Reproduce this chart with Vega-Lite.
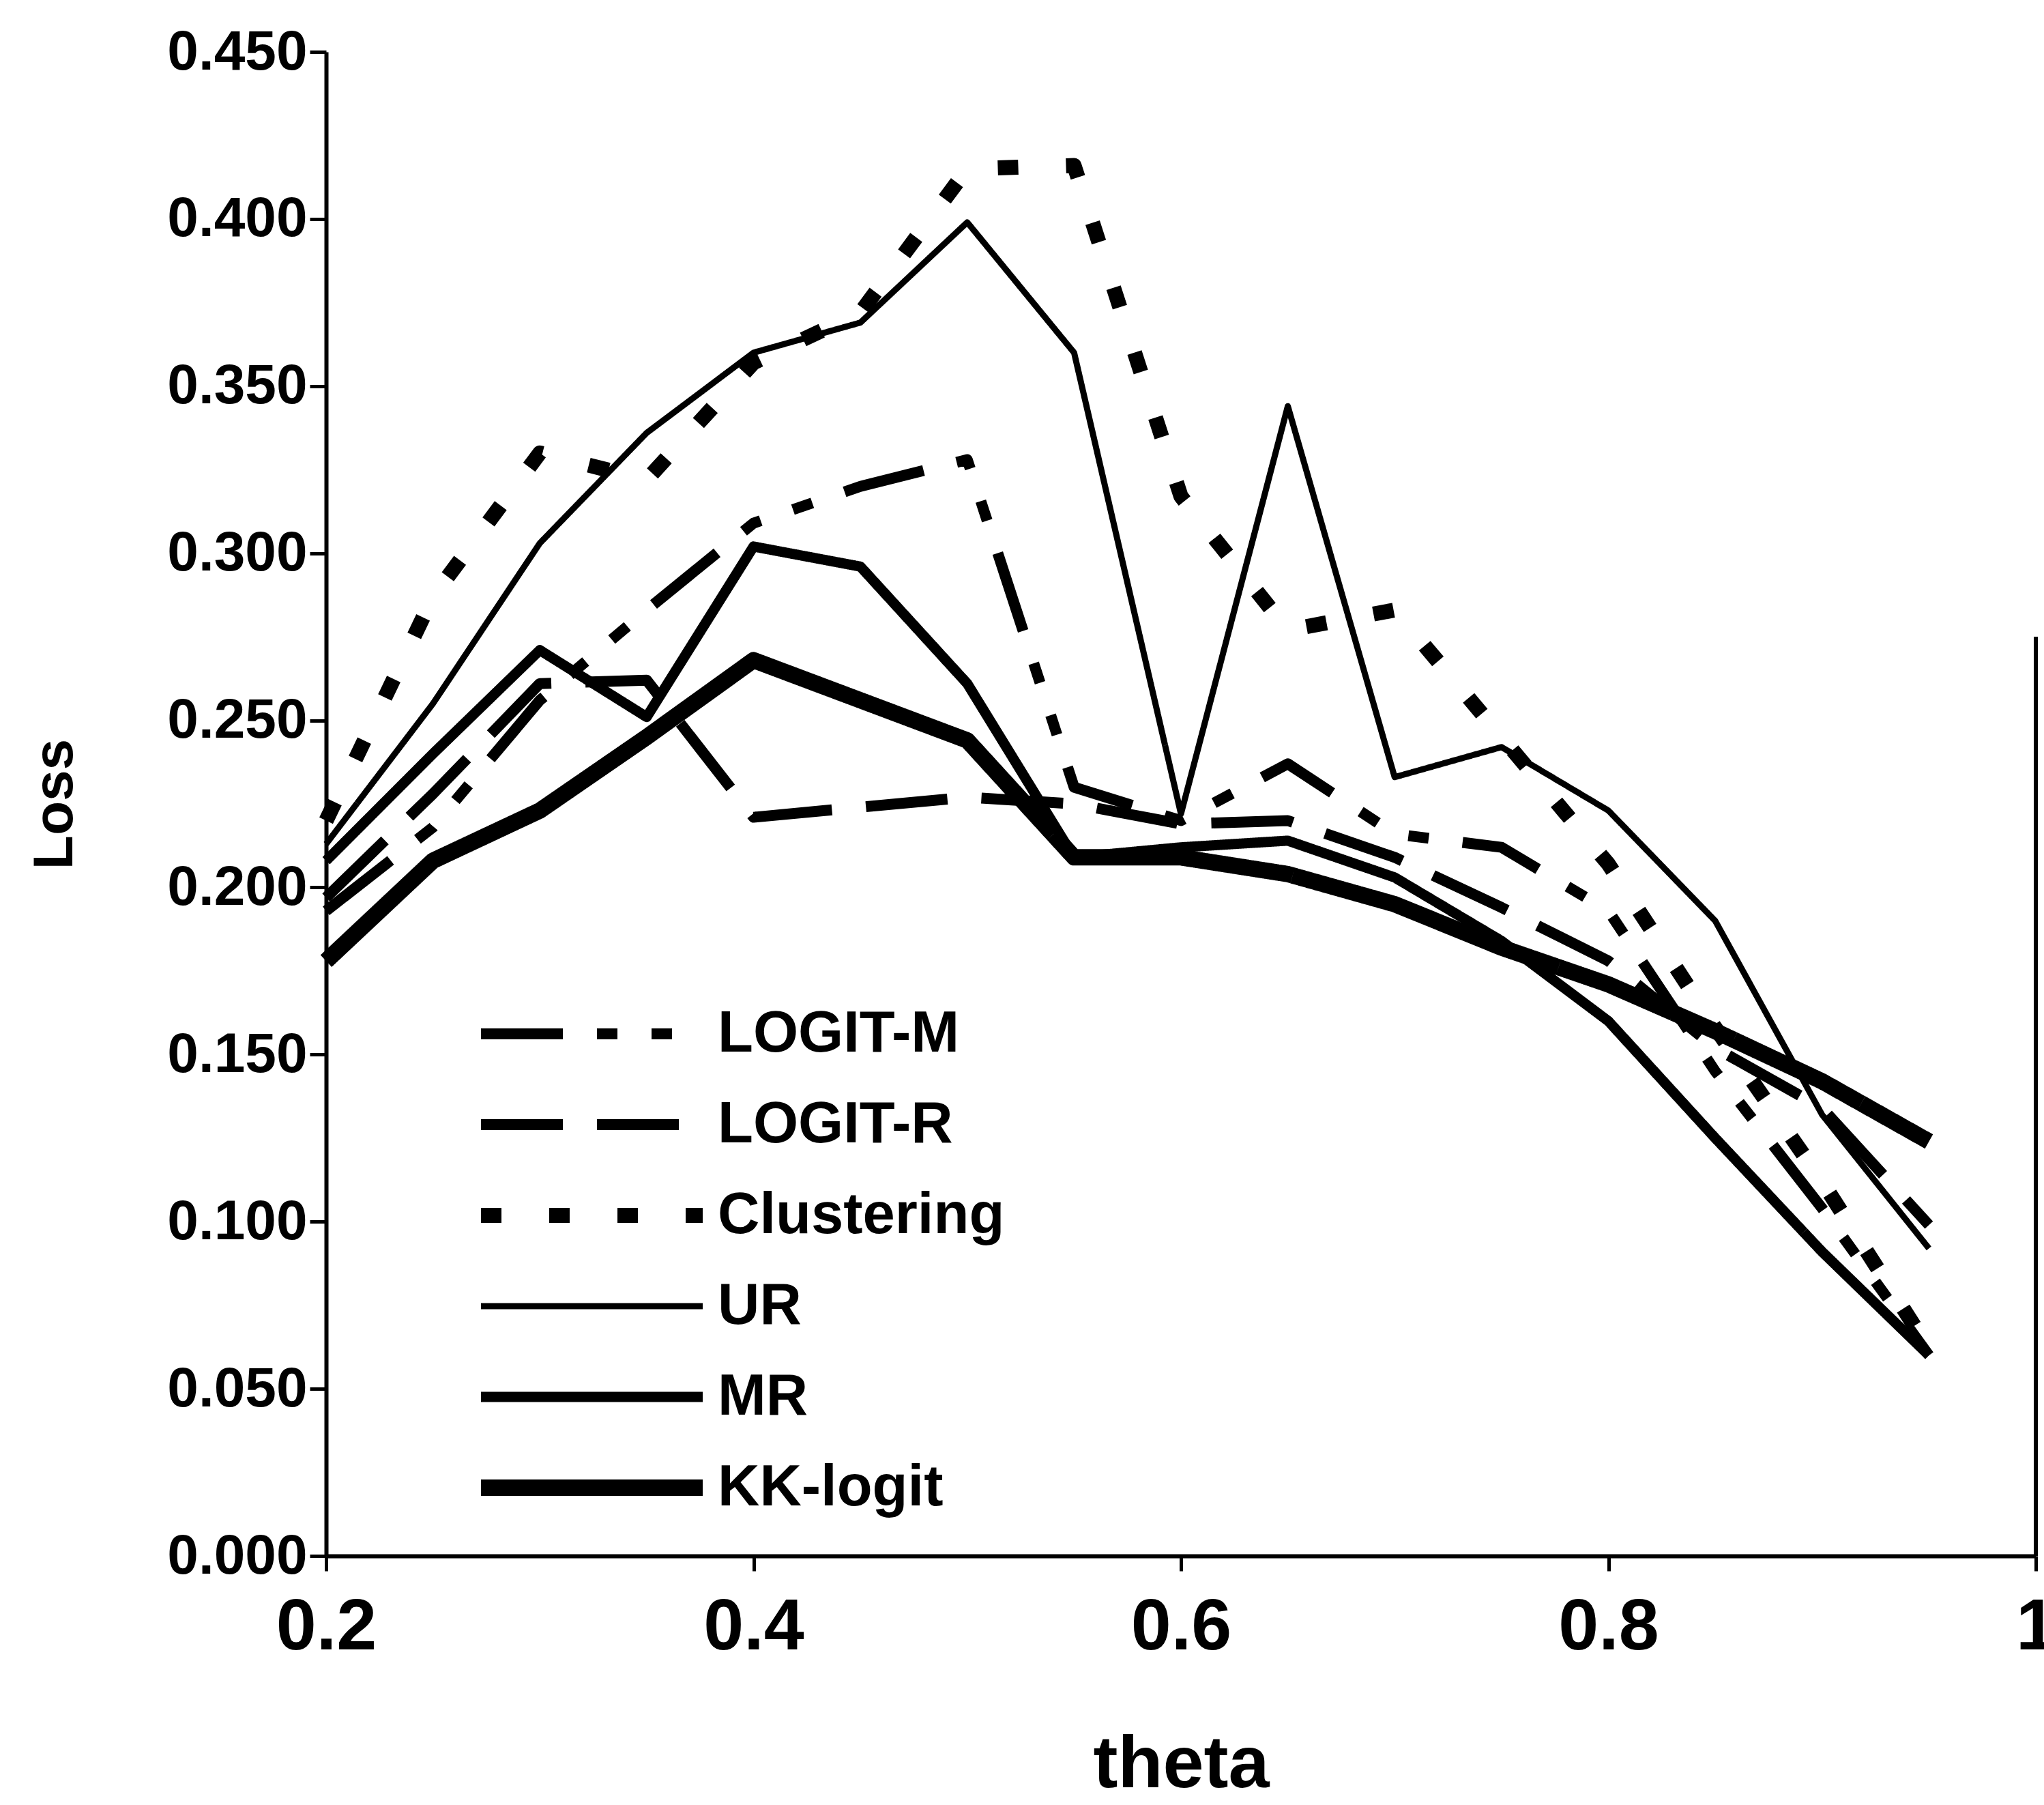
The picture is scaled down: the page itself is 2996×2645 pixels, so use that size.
{
  "$schema": "https://vega.github.io/schema/vega-lite/v6.json",
  "autosize": {"type": "none"},
  "padding": {"left": 478, "top": 76, "right": 12, "bottom": 365},
  "width": 2506,
  "height": 2204,
  "background": "white",
  "config": {"view": {"stroke": null}},
  "datasets": {
    "loss": [
      {"theta": 0.2, "loss": 0.193, "series": "LOGIT-M"},
      {"theta": 0.25, "loss": 0.218, "series": "LOGIT-M"},
      {"theta": 0.3, "loss": 0.256, "series": "LOGIT-M"},
      {"theta": 0.35, "loss": 0.283, "series": "LOGIT-M"},
      {"theta": 0.4, "loss": 0.309, "series": "LOGIT-M"},
      {"theta": 0.45, "loss": 0.32, "series": "LOGIT-M"},
      {"theta": 0.5, "loss": 0.328, "series": "LOGIT-M"},
      {"theta": 0.55, "loss": 0.23, "series": "LOGIT-M"},
      {"theta": 0.6, "loss": 0.22, "series": "LOGIT-M"},
      {"theta": 0.65, "loss": 0.237, "series": "LOGIT-M"},
      {"theta": 0.7, "loss": 0.216, "series": "LOGIT-M"},
      {"theta": 0.75, "loss": 0.212, "series": "LOGIT-M"},
      {"theta": 0.8, "loss": 0.193, "series": "LOGIT-M"},
      {"theta": 0.85, "loss": 0.145, "series": "LOGIT-M"},
      {"theta": 0.9, "loss": 0.104, "series": "LOGIT-M"},
      {"theta": 0.95, "loss": 0.06, "series": "LOGIT-M"},

      {"theta": 0.2, "loss": 0.197, "series": "LOGIT-R"},
      {"theta": 0.25, "loss": 0.228, "series": "LOGIT-R"},
      {"theta": 0.3, "loss": 0.261, "series": "LOGIT-R"},
      {"theta": 0.35, "loss": 0.262, "series": "LOGIT-R"},
      {"theta": 0.4, "loss": 0.221, "series": "LOGIT-R"},
      {"theta": 0.45, "loss": 0.224, "series": "LOGIT-R"},
      {"theta": 0.5, "loss": 0.227, "series": "LOGIT-R"},
      {"theta": 0.55, "loss": 0.225, "series": "LOGIT-R"},
      {"theta": 0.6, "loss": 0.219, "series": "LOGIT-R"},
      {"theta": 0.65, "loss": 0.22, "series": "LOGIT-R"},
      {"theta": 0.7, "loss": 0.209, "series": "LOGIT-R"},
      {"theta": 0.75, "loss": 0.194, "series": "LOGIT-R"},
      {"theta": 0.8, "loss": 0.178, "series": "LOGIT-R"},
      {"theta": 0.85, "loss": 0.152, "series": "LOGIT-R"},
      {"theta": 0.9, "loss": 0.134, "series": "LOGIT-R"},
      {"theta": 0.95, "loss": 0.099, "series": "LOGIT-R"},

      {"theta": 0.2, "loss": 0.22, "series": "Clustering"},
      {"theta": 0.25, "loss": 0.287, "series": "Clustering"},
      {"theta": 0.3, "loss": 0.33, "series": "Clustering"},
      {"theta": 0.35, "loss": 0.322, "series": "Clustering"},
      {"theta": 0.4, "loss": 0.357, "series": "Clustering"},
      {"theta": 0.45, "loss": 0.372, "series": "Clustering"},
      {"theta": 0.5, "loss": 0.415, "series": "Clustering"},
      {"theta": 0.55, "loss": 0.416, "series": "Clustering"},
      {"theta": 0.6, "loss": 0.317, "series": "Clustering"},
      {"theta": 0.65, "loss": 0.277, "series": "Clustering"},
      {"theta": 0.7, "loss": 0.283, "series": "Clustering"},
      {"theta": 0.75, "loss": 0.245, "series": "Clustering"},
      {"theta": 0.8, "loss": 0.207, "series": "Clustering"},
      {"theta": 0.85, "loss": 0.158, "series": "Clustering"},
      {"theta": 0.9, "loss": 0.112, "series": "Clustering"},
      {"theta": 0.95, "loss": 0.062, "series": "Clustering"},

      {"theta": 0.2, "loss": 0.213, "series": "UR"},
      {"theta": 0.25, "loss": 0.255, "series": "UR"},
      {"theta": 0.3, "loss": 0.303, "series": "UR"},
      {"theta": 0.35, "loss": 0.336, "series": "UR"},
      {"theta": 0.4, "loss": 0.36, "series": "UR"},
      {"theta": 0.45, "loss": 0.369, "series": "UR"},
      {"theta": 0.5, "loss": 0.399, "series": "UR"},
      {"theta": 0.55, "loss": 0.36, "series": "UR"},
      {"theta": 0.6, "loss": 0.222, "series": "UR"},
      {"theta": 0.65, "loss": 0.344, "series": "UR"},
      {"theta": 0.7, "loss": 0.233, "series": "UR"},
      {"theta": 0.75, "loss": 0.242, "series": "UR"},
      {"theta": 0.8, "loss": 0.223, "series": "UR"},
      {"theta": 0.85, "loss": 0.19, "series": "UR"},
      {"theta": 0.9, "loss": 0.132, "series": "UR"},
      {"theta": 0.95, "loss": 0.092, "series": "UR"},

      {"theta": 0.2, "loss": 0.208, "series": "MR"},
      {"theta": 0.25, "loss": 0.24, "series": "MR"},
      {"theta": 0.3, "loss": 0.271, "series": "MR"},
      {"theta": 0.35, "loss": 0.251, "series": "MR"},
      {"theta": 0.4, "loss": 0.302, "series": "MR"},
      {"theta": 0.45, "loss": 0.296, "series": "MR"},
      {"theta": 0.5, "loss": 0.261, "series": "MR"},
      {"theta": 0.55, "loss": 0.209, "series": "MR"},
      {"theta": 0.6, "loss": 0.212, "series": "MR"},
      {"theta": 0.65, "loss": 0.214, "series": "MR"},
      {"theta": 0.7, "loss": 0.203, "series": "MR"},
      {"theta": 0.75, "loss": 0.184, "series": "MR"},
      {"theta": 0.8, "loss": 0.16, "series": "MR"},
      {"theta": 0.85, "loss": 0.125, "series": "MR"},
      {"theta": 0.9, "loss": 0.091, "series": "MR"},
      {"theta": 0.95, "loss": 0.06, "series": "MR"},

      {"theta": 0.2, "loss": 0.178, "series": "KK-logit"},
      {"theta": 0.25, "loss": 0.208, "series": "KK-logit"},
      {"theta": 0.3, "loss": 0.223, "series": "KK-logit"},
      {"theta": 0.35, "loss": 0.245, "series": "KK-logit"},
      {"theta": 0.4, "loss": 0.268, "series": "KK-logit"},
      {"theta": 0.45, "loss": 0.256, "series": "KK-logit"},
      {"theta": 0.5, "loss": 0.244, "series": "KK-logit"},
      {"theta": 0.55, "loss": 0.209, "series": "KK-logit"},
      {"theta": 0.6, "loss": 0.209, "series": "KK-logit"},
      {"theta": 0.65, "loss": 0.204, "series": "KK-logit"},
      {"theta": 0.7, "loss": 0.195, "series": "KK-logit"},
      {"theta": 0.75, "loss": 0.182, "series": "KK-logit"},
      {"theta": 0.8, "loss": 0.171, "series": "KK-logit"},
      {"theta": 0.85, "loss": 0.157, "series": "KK-logit"},
      {"theta": 0.9, "loss": 0.142, "series": "KK-logit"},
      {"theta": 0.95, "loss": 0.124, "series": "KK-logit"}
    ],
    "frame": [
      {"x": 1, "y": 0, "y2": 0.275}
    ]
  },
  "layer": [
    {
      "data": {"name": "loss"},
      "mark": {"type": "line", "color": "black", "strokeCap": "butt", "strokeJoin": "round"},
      "encoding": {
        "x": {
          "field": "theta", "type": "quantitative",
          "scale": {"domain": [0.2, 1], "nice": false, "zero": false},
          "axis": {
            "title": "theta",
            "values": [0.2, 0.4, 0.6, 0.8, 1],
            "format": "~g",
            "grid": false,
            "domainColor": "black", "domainWidth": 6,
            "tickColor": "black", "tickWidth": 5, "tickSize": 22,
            "labelFont": "Liberation Sans Narrow, Noto Sans Condensed, Liberation Sans, sans-serif",
            "labelFontSize": 106, "labelFontWeight": "bold", "labelColor": "black",
            "labelPadding": 30, "labelFlush": false, "labelOverlap": false, "labelLimit": 1000,
            "titleFont": "Liberation Sans Narrow, Noto Sans Condensed, Liberation Sans, sans-serif",
            "titleFontSize": 108, "titleFontWeight": "bold", "titleColor": "black",
            "titlePadding": 96
          }
        },
        "y": {
          "field": "loss", "type": "quantitative",
          "scale": {"domain": [0, 0.45], "nice": false},
          "axis": {
            "title": "Loss",
            "values": [0, 0.05, 0.1, 0.15, 0.2, 0.25, 0.3, 0.35, 0.4, 0.45],
            "format": ".3f",
            "grid": false,
            "domainColor": "black", "domainWidth": 6,
            "tickColor": "black", "tickWidth": 5, "tickSize": 24,
            "labelFont": "Liberation Sans, sans-serif",
            "labelFontSize": 82, "labelFontWeight": "bold", "labelColor": "black",
            "labelPadding": 4, "labelFlush": false, "labelOverlap": false, "labelLimit": 1000,
            "titleFont": "Liberation Sans, sans-serif",
            "titleFontSize": 82, "titleFontWeight": "bold", "titleColor": "black",
            "titlePadding": 156
          }
        },
        "detail": {"field": "series"},
        "strokeDash": {
          "field": "series", "type": "nominal",
          "scale": {
            "domain": ["LOGIT-M", "LOGIT-R", "Clustering", "UR", "MR", "KK-logit"],
            "range": [[120, 50, 30, 50, 30, 50], [120, 50], [30, 70], [1, 0], [1, 0], [1, 0]]
          },
          "legend": {
            "title": null,
            "orient": "none",
            "legendX": 215,
            "legendY": 1389,
            "direction": "vertical",
            "padding": 0,
            "symbolType": "stroke",
            "symbolSize": 105625,
            "symbolStrokeColor": "black",
            "symbolOffset": 0,
            "clipHeight": 100,
            "rowPadding": 33,
            "labelOffset": 10,
            "labelFont": "Liberation Sans, sans-serif",
            "labelFontSize": 85,
            "labelFontWeight": "bold",
            "labelColor": "black",
            "labelLimit": 1000,
            "labelBaseline": "middle"
          }
        },
        "strokeWidth": {
          "field": "series", "type": "nominal",
          "scale": {
            "type": "ordinal",
            "domain": ["LOGIT-M", "LOGIT-R", "Clustering", "UR", "MR", "KK-logit"],
            "range": [16, 16, 22, 9, 15, 24]
          },
          "legend": {
            "title": null,
            "orient": "none",
            "legendX": 215,
            "legendY": 1389,
            "direction": "vertical",
            "padding": 0,
            "symbolType": "stroke",
            "symbolSize": 105625,
            "symbolStrokeColor": "black",
            "symbolOffset": 0,
            "clipHeight": 100,
            "rowPadding": 33,
            "labelOffset": 10,
            "labelFont": "Liberation Sans, sans-serif",
            "labelFontSize": 85,
            "labelFontWeight": "bold",
            "labelColor": "black",
            "labelLimit": 1000,
            "labelBaseline": "middle"
          }
        }
      }
    },
    {
      "data": {"name": "frame"},
      "mark": {"type": "rule", "color": "black", "strokeWidth": 6},
      "encoding": {
        "x": {"field": "x", "type": "quantitative"},
        "y": {"field": "y", "type": "quantitative"},
        "y2": {"field": "y2"}
      }
    }
  ]
}
